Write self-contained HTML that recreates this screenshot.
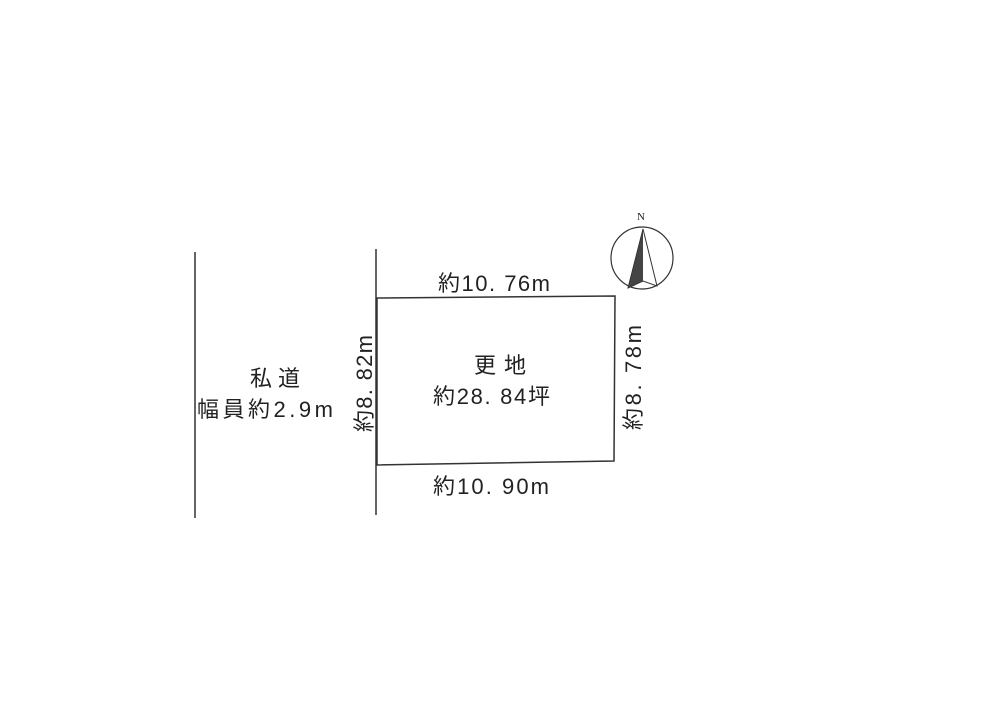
<!DOCTYPE html>
<html><head><meta charset="utf-8"><style>
body{margin:0;background:#fff;width:1000px;height:707px;overflow:hidden}
svg text{font-family:"Liberation Sans","Noto Sans CJK JP",sans-serif;fill:#222;font-size:22px}
</style></head><body>
<svg width="1000" height="707" viewBox="0 0 1000 707">
<g stroke="#333" stroke-width="1.5" fill="none">
<line x1="195" y1="252" x2="195" y2="518"/>
<line x1="376" y1="249" x2="376" y2="515"/>
<polygon points="377,298 615,296 614,461 377,465"/>
<circle cx="642" cy="258" r="31" stroke-width="1.2"/>
</g>
<polygon points="643,229 628,288 643,281" fill="#444"/>
<polygon points="643,229 657,286 643,281 628,288" fill="none" stroke="#333" stroke-width="1"/>
<text x="641" y="220" text-anchor="middle" style="font-size:11px;font-family:'Liberation Serif',serif">N</text>
<text x="438" y="291" textLength="112" lengthAdjust="spacing">約10. 76m</text>
<text x="433" y="494" textLength="116" lengthAdjust="spacing">約10. 90m</text>
<text x="474" y="373" textLength="52" lengthAdjust="spacing">更地</text>
<text x="433" y="404" textLength="117" lengthAdjust="spacing">約28. 84坪</text>
<text x="250" y="386" textLength="50" lengthAdjust="spacing">私道</text>
<text x="197" y="417" textLength="136" lengthAdjust="spacing">幅員約2.9m</text>
<text transform="translate(372,432) rotate(-90)" textLength="97" lengthAdjust="spacing">約8. 82m</text>
<text transform="translate(641,430) rotate(-90)" textLength="105" lengthAdjust="spacing">約8. 78m</text>
</svg>
</body></html>
